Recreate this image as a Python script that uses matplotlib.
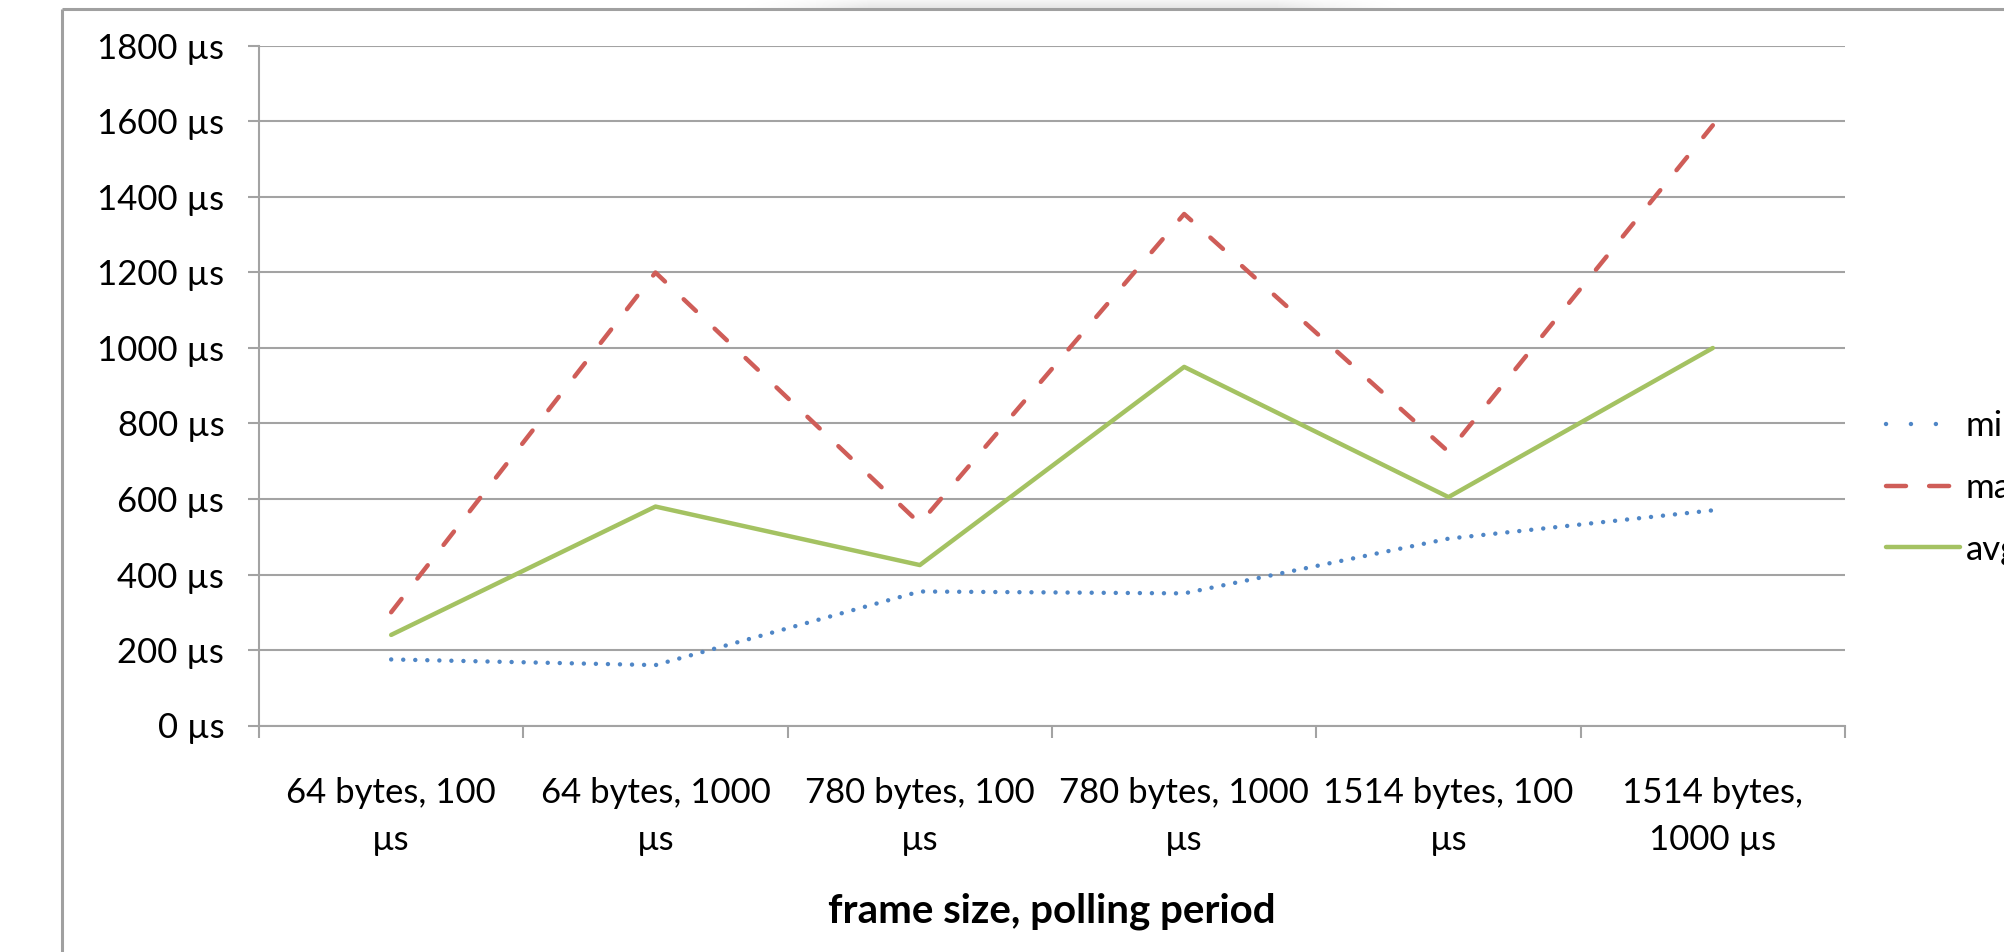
import numpy as np
import matplotlib
matplotlib.use("Agg")
import matplotlib.pyplot as plt
from matplotlib.lines import Line2D

# ---- data -------------------------------------------------------------
tick_labels = [
    "64 bytes, 100\nµs",
    "64 bytes, 1000\nµs",
    "780 bytes, 100\nµs",
    "780 bytes, 1000\nµs",
    "1514 bytes, 100\nµs",
    "1514 bytes,\n1000 µs",
]
min_latency = [175, 160, 355, 350, 495, 570]
max_latency = [300, 1200, 535, 1355, 725, 1590]
avg_latency = [240, 580, 425, 950, 605, 1000]
series_names = ["min", "max", "avg"]
y_ticks = [0, 200, 400, 600, 800, 1000, 1200, 1400, 1600, 1800]
x_title = "frame size, polling period"

# ---- style ------------------------------------------------------------
W, H, DPI = 2004, 952, 100
FONT = "Lato"
FS = 25
GRID = "#A3A3A3"
BLUE = "#4F86C6"
RED = "#CF5D58"
GREEN = "#A4C262"
LW = 3.2

plt.rcParams["font.family"] = [FONT, "DejaVu Sans"]

fig = plt.figure(figsize=(W / DPI, H / DPI), dpi=DPI)
fig.patch.set_facecolor("white")

# plot area in pixel coordinates
left_px, right_px, top_px, bottom_px = 259, 1845, 46, 725.5
ax = fig.add_axes([left_px / W, 1 - bottom_px / H,
                   (right_px - left_px) / W, (bottom_px - top_px) / H])

x = np.arange(len(tick_labels))

ax.plot(x, min_latency, color=BLUE, lw=LW, linestyle=(0, (0.01, 2.7)),
        dash_capstyle="round", solid_joinstyle="round", zorder=3)
ax.plot(x, max_latency, color=RED, lw=LW, linestyle=(0, (3.8, 5.8)),
        dash_capstyle="round", dash_joinstyle="round", zorder=3)
ax.plot(x, avg_latency, color=GREEN, lw=LW, solid_capstyle="round",
        solid_joinstyle="round", zorder=3)

ax.set_xlim(-0.5, len(tick_labels) - 0.5)
ax.set_ylim(0, 1800)

# horizontal gridlines
ax.set_yticks(y_ticks, [f"{v} µs" for v in y_ticks])
ax.yaxis.grid(True, color=GRID, lw=1.5)
ax.set_axisbelow(True)

# category boundary ticks (major) and centred labels (minor)
ax.set_xticks(np.arange(-0.5, len(tick_labels)), [])
ax.set_xticks(x, tick_labels, minor=True)
ax.tick_params(axis="x", which="major", direction="out", length=8.5,
               width=1.5, color=GRID)
ax.tick_params(axis="x", which="minor", length=0, pad=37, labelsize=FS)
ax.tick_params(axis="y", direction="out", length=8, width=1.5, color=GRID,
               pad=17, labelsize=FS)
for lbl in ax.get_xticklabels(minor=True):
    lbl.set_linespacing(1.6)

for side in ("top", "right"):
    ax.spines[side].set_visible(False)
for side in ("left", "bottom"):
    ax.spines[side].set_color(GRID)
    ax.spines[side].set_linewidth(1.5)

ax.set_xlabel(x_title, fontsize=29, fontweight="bold")
ax.xaxis.set_label_coords(0.5, (bottom_px - 911) / (bottom_px - top_px))
ax.xaxis.label.set_va("center")

# legend at the right edge of the chart frame
handles = [
    Line2D([], [], color=BLUE, lw=LW, linestyle=(0, (0.01, 5.6)),
           dash_capstyle="round"),
    Line2D([], [], color=RED, lw=LW, linestyle=(0, (4.5, 5.2)),
           dash_capstyle="round"),
    Line2D([], [], color=GREEN, lw=LW, solid_capstyle="round"),
]
fig.legend(handles, series_names, loc="center left",
           bbox_to_anchor=(1886 / W, 1 - 488 / H), frameon=False,
           fontsize=FS, handlelength=2.13, handletextpad=0.17,
           borderpad=0, borderaxespad=0, labelspacing=0.85)

# soft shadow above the chart frame
sh_w, sh_h, sh_x0 = 690, 10, 728
xs = np.arange(sh_w)
ax_fade = np.clip(np.minimum(xs, sh_w - 1 - xs) / 140.0, 0, 1) ** 1.5
ay_fade = np.linspace(0.04, 0.11, sh_h)
shadow = np.zeros((sh_h, sh_w, 4))
shadow[..., 3] = ay_fade[:, None] * ax_fade[None, :]
fig.figimage(shadow, xo=sh_x0, yo=H - sh_h, origin="upper", zorder=1)

# chart frame (left and top edges)
fx, fy = 62 / W, 1 - 9 / H
fig.add_artist(Line2D([fx, fx], [0, fy], transform=fig.transFigure,
                      color="#A0A0A0", lw=2.2, solid_capstyle="butt"))
fig.add_artist(Line2D([fx, 1], [fy, fy], transform=fig.transFigure,
                      color="#A0A0A0", lw=2.2, solid_capstyle="butt"))

fig.savefig("out.png", dpi=DPI)
